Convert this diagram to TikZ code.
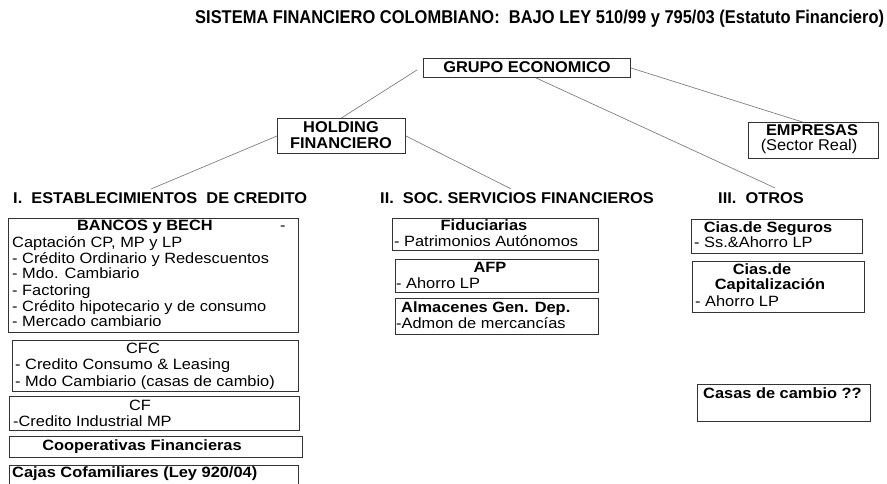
\documentclass[tikz,border=0pt]{standalone}
\usepackage{fontspec}
\setmainfont{Liberation Sans}
\newfontfamily\bodyff[FakeStretch=1.1]{Liberation Sans}
\newfontfamily\headff[FakeStretch=1.05]{Liberation Sans}
\newfontfamily\titleff[FakeStretch=0.89]{Liberation Sans}
\newcommand{\bodyfont}{\bodyff\fontsize{14.9}{16}\selectfont}
\newcommand{\bodybfont}{\bodyff\bfseries\fontsize{14.9}{16}\selectfont}
\newcommand{\headfont}{\headff\bfseries\fontsize{15.6}{18}\selectfont}
\newcommand{\titlefont}{\titleff\bfseries\fontsize{18.5}{20}\selectfont}
\begin{document}
\begin{tikzpicture}[x=1pt,y=-1pt,
  box/.style={draw=black!80,line width=0.9pt,inner sep=0pt,anchor=north west},
  link/.style={draw=black!50,line width=0.7pt},
  tl/.style={anchor=base west,inner sep=0pt,font=\bodyfont},
  tc/.style={anchor=base,inner sep=0pt,font=\bodyfont},
  bl/.style={anchor=base west,inner sep=0pt,font=\bodybfont},
  bc/.style={anchor=base,inner sep=0pt,font=\bodybfont},
  hl/.style={anchor=base west,inner sep=0pt,font=\headfont},
  hc/.style={anchor=base,inner sep=0pt,font=\headfont}]
\useasboundingbox (0,0) rectangle (887,483);
\fill[white] (0,0) rectangle (887,483);

% title
\node[anchor=base west,inner sep=0pt,font=\titlefont] (title) at (195,23) {SISTEMA FINANCIERO COLOMBIANO:\ \ BAJO LEY 510/99 y 795/03 (Estatuto Financiero)};

% top level
\node[box,minimum width=207pt,minimum height=19pt] (grupo) at (423,58) {};
\node[hc] (grupoT) at (527,72) {GRUPO ECONOMICO};
\node[box,minimum width=128pt,minimum height=35pt] (holding) at (277,118) {};
\node[hc] (holdingT1) at (341,132) {HOLDING};
\node[hc] (holdingT2) at (341,148) {FINANCIERO};
\node[box,minimum width=130pt,minimum height=36pt] (empresas) at (748,122) {};
\node[hc] (empresasT1) at (812,135) {EMPRESAS};
\node[tc,font=\headff\fontsize{15.6}{18}\selectfont] (empresasT2) at (809,150) {(Sector Real)};

% headings
\node[hl] (h1) at (13,203) {I.\ \ ESTABLECIMIENTOS\ \ DE CREDITO};
\node[hl] (h2) at (380,203) {II.\ \ SOC. SERVICIOS FINANCIEROS};
\node[hl] (h3) at (718,203) {III.\ \ OTROS};

% connectors
\draw[link] (holding.north) -- ([xshift=-6pt,yshift=-2pt]grupo.west);
\draw[link] ([xshift=9pt]grupo.south) -- ([xshift=14pt,yshift=4pt]h3.north);
\draw[link] (grupo.east) -- ([xshift=-11pt]empresas.north);
\draw[link] (holding.west) -- ([xshift=-9pt,yshift=3pt]h1.north);
\draw[link] (holding.east) -- ([xshift=-6pt,yshift=3pt]h2.north);

% column I
\node[box,minimum width=290pt,minimum height=114pt] (bancos) at (8,218) {};
\node[bc] (bancosT) at (145,230) {BANCOS y BECH};
\node[tl] (bancosD) at (280,230) {-};
\node[tl] (bancos1) at (12,247) {Captación CP, MP y LP};
\node[tl] (bancos2) at (12,263) {- Crédito Ordinario y Redescuentos};
\node[tl] (bancos3) at (12,278) {- Mdo. Cambiario};
\node[tl] (bancos4) at (12,295) {- Factoring};
\node[tl] (bancos5) at (12,311) {- Crédito hipotecario y de consumo};
\node[tl] (bancos6) at (12,326) {- Mercado cambiario};

\node[box,minimum width=286pt,minimum height=51pt] (cfc) at (12,340) {};
\node[tc] (cfcT) at (143,353) {CFC};
\node[tl] (cfc1) at (15,369) {- Credito Consumo \& Leasing};
\node[tl] (cfc2) at (15,386) {- Mdo Cambiario (casas de cambio)};

\node[box,minimum width=290pt,minimum height=34pt] (cf) at (9,396) {};
\node[tc] (cfT) at (140,410) {CF};
\node[tl] (cf1) at (13,426) {-Credito Industrial MP};

\node[box,minimum width=293pt,minimum height=21pt] (coop) at (9,436) {};
\node[bc] (coopT) at (142,450) {Cooperativas Financieras};

\node[inner sep=0pt,anchor=north west,minimum width=289pt,minimum height=20pt] (cajas) at (9,465) {};
\draw[draw=black!80,line width=0.9pt] (cajas.south west) -- (cajas.north west) -- (cajas.north east) -- (cajas.south east);
\node[bl] (cajasT) at (12,477) {Cajas Cofamiliares (Ley 920/04)};

% column II
\node[box,minimum width=206pt,minimum height=32pt] (fid) at (392,218) {};
\node[bc] (fidT) at (484,230) {Fiduciarias};
\node[tl] (fid1) at (394,246) {- Patrimonios Autónomos};

\node[box,minimum width=203pt,minimum height=33pt] (afp) at (395,259) {};
\node[bc] (afpT) at (490,272) {AFP};
\node[tl] (afp1) at (396,288) {- Ahorro LP};

\node[box,minimum width=203pt,minimum height=36pt] (alm) at (395,298) {};
\node[bl] (almT) at (401,312) {Almacenes Gen. Dep.};
\node[tl] (alm1) at (396,328) {-Admon de mercancías};

% column III
\node[box,minimum width=171pt,minimum height=34pt] (seg) at (691,219) {};
\node[bc] (segT) at (768,232) {Cias.de Seguros};
\node[tl] (seg1) at (694,247) {- Ss.\&Ahorro LP};

\node[box,minimum width=172pt,minimum height=51pt] (cap) at (692,261) {};
\node[bc] (capT1) at (762,274) {Cias.de};
\node[bc] (capT2) at (770,289) {Capitalización};
\node[tl] (cap1) at (695,306) {- Ahorro LP};

\node[box,minimum width=173pt,minimum height=37pt] (casas) at (697,384) {};
\node[bl] (casasT) at (703,398) {Casas de cambio ??};
\end{tikzpicture}
\end{document}
